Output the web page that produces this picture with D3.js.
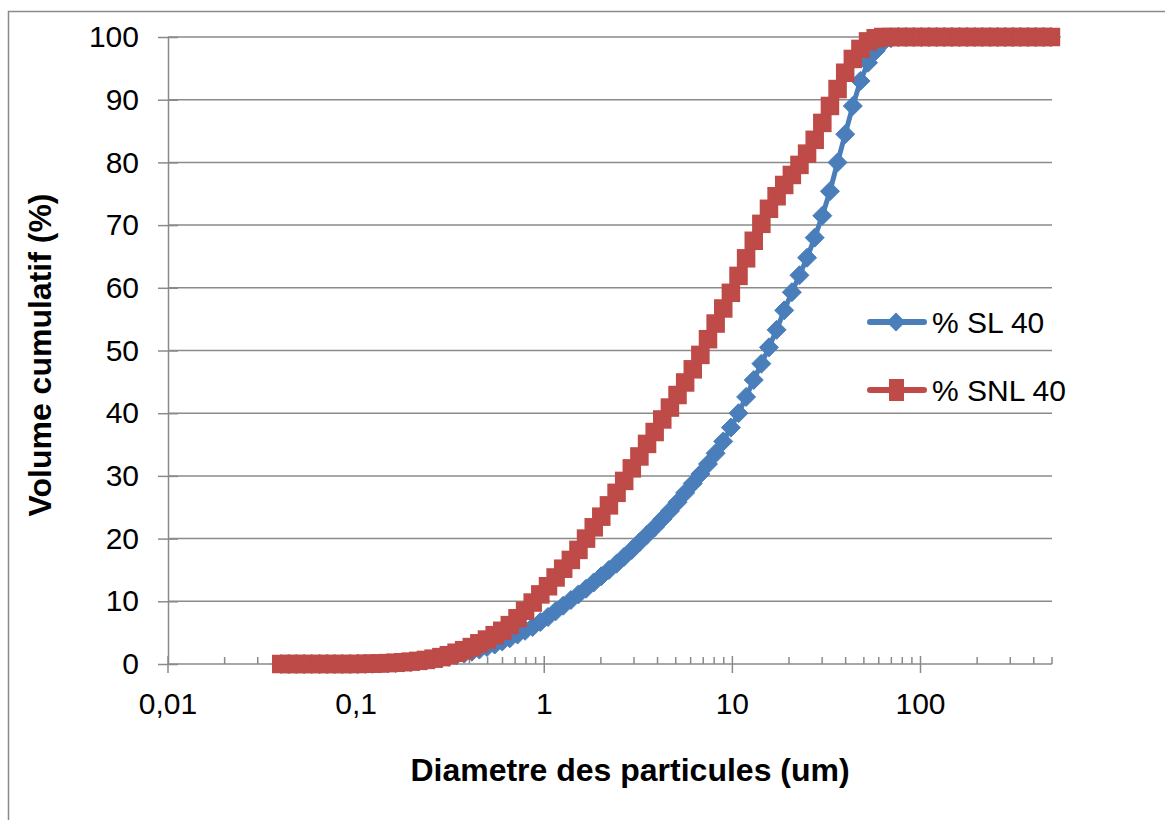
<!DOCTYPE html>
<html>
<head>
<meta charset="utf-8">
<script src="https://cdn.jsdelivr.net/npm/d3@7"></script>
<style>
  html, body { margin: 0; padding: 0; background: #ffffff; }
  svg { display: block; font-family: "Liberation Sans", Arial, sans-serif; }
</style>
</head>
<body>
<svg id="chart" width="1165" height="820"></svg>
<script>
// Particle size classes (um)
const sizeClasses = [
  0.040, 0.044, 0.048, 0.053, 0.058, 0.064, 0.070, 0.077, 0.084, 0.093,
  0.102, 0.112, 0.122, 0.134, 0.148, 0.162, 0.178, 0.195, 0.214, 0.235,
  0.258, 0.284, 0.311, 0.342,
  0.375, 0.412, 0.452, 0.496, 0.545, 0.598, 0.656, 0.721, 0.791, 0.868,
  0.953, 1.047, 1.149, 1.261, 1.385, 1.520, 1.668, 1.832, 2.010, 2.207,
  2.423, 2.660, 2.920, 3.205, 3.519, 3.863, 4.240, 4.655, 5.110, 5.610,
  6.158, 6.760, 7.421, 8.147, 8.943, 9.818, 10.78, 11.83, 12.99, 14.26,
  15.65, 17.18, 18.86, 20.71, 22.73, 24.95, 27.39, 30.07, 33.01, 36.24,
  39.78, 43.67, 47.94, 52.62, 57.77, 63.41, 69.61, 76.42, 83.89, 92.09,
  101.1, 111.0, 121.8, 133.7, 146.8, 161.2, 176.8, 194.2, 213.2, 234.1,
  256.9, 282.1, 309.6, 339.9, 373.1, 409.6, 449.7, 493.6
];

// Cumulative volume (%) - % SL 40
const sl40 = [
  0, 0, 0, 0, 0, 0, 0, 0, 0, 0,
  0, 0.02, 0.04, 0.07, 0.11, 0.16, 0.22, 0.3, 0.42, 0.55,
  0.72, 0.92, 1.15, 1.4,
  1.65, 1.95, 2.3, 2.7, 3.1, 3.6, 4.1, 4.7, 5.3, 5.9,
  6.7, 7.5, 8.4, 9.3, 10.2, 11.1, 12.0, 13.0, 14.0, 15.0,
  16.0, 17.1, 18.2, 19.4, 20.6, 21.8, 23.1, 24.4, 25.8, 27.3,
  28.8, 30.3, 31.9, 33.6, 35.5, 37.7, 40.0, 42.6, 45.3, 47.9,
  50.5, 53.3, 56.4, 59.3, 62.0, 64.8, 68.0, 71.5, 75.4, 80.0,
  84.5, 89.0, 93.0, 95.9, 97.8, 99.2, 99.8, 100, 100, 100,
  100, 100, 100, 100, 100, 100, 100, 100, 100, 100,
  100, 100, 100, 100, 100, 100, 100, 100
];

// Cumulative volume (%) - % SNL 40
const snl40 = [
  0, 0, 0, 0, 0, 0, 0, 0, 0, 0,
  0.01, 0.03, 0.05, 0.09, 0.14, 0.2, 0.28, 0.38, 0.5, 0.65,
  0.85, 1.1, 1.4, 1.8,
  2.2, 2.7, 3.3, 3.9, 4.6, 5.3, 6.2, 7.3, 8.5, 9.8,
  11.1, 12.4, 13.8, 15.2, 16.6, 18.2, 20.0, 21.8, 23.5, 25.3,
  27.3, 29.2, 31.2, 33.1, 35.1, 37.0, 39.0, 40.9, 42.9, 44.9,
  47.0, 49.3, 51.8, 54.3, 56.7, 59.2, 61.9, 64.7, 67.5, 70.2,
  72.6, 74.6, 76.4, 78.0, 79.6, 81.4, 83.6, 86.3, 89.0, 91.7,
  94.3, 96.5, 98.1, 99.3, 99.8, 100, 100, 100, 100, 100,
  100, 100, 100, 100, 100, 100, 100, 100, 100, 100,
  100, 100, 100, 100, 100, 100, 100, 100
];

const yTickValues = [0, 10, 20, 30, 40, 50, 60, 70, 80, 90, 100];
const xTickValues = [0.01, 0.1, 1, 10, 100];
const xTickLabels = ["0,01", "0,1", "1", "10", "100"];
const seriesNames = ["% SL 40", "% SNL 40"];

const BLUE = "#4a7ebb";
const RED = "#be4b48";
const GRID = "#8a8a8a";

const svg = d3.select("#chart");

// Chart area frame
svg.append("rect")
  .attr("x", 8.5).attr("y", 11.5)
  .attr("width", 1300).attr("height", 900)
  .attr("fill", "none").attr("stroke", "#8a8a8a").attr("stroke-width", 1.5);

const plot = { left: 168, right: 1052, top: 37, bottom: 664 };

const x = d3.scaleLog().domain([0.01, 500]).range([plot.left, plot.right]);
const y = d3.scaleLinear().domain([0, 100]).range([plot.bottom, plot.top]);

// Horizontal gridlines
svg.append("g")
  .selectAll("line")
  .data(yTickValues.filter(v => v > 0))
  .join("line")
  .attr("x1", plot.left).attr("x2", plot.right)
  .attr("y1", d => y(d)).attr("y2", d => y(d))
  .attr("stroke", GRID).attr("stroke-width", 1.5);

// Y axis
const yAxis = svg.append("g")
  .attr("transform", `translate(${plot.left},0)`)
  .call(d3.axisLeft(y).tickValues(yTickValues).tickSize(0).tickPadding(29));
yAxis.select(".domain").attr("stroke", GRID).attr("stroke-width", 1.5);
yAxis.selectAll(".tick text")
  .attr("font-size", 30).attr("fill", "#000")
  .attr("font-family", "Liberation Sans, Arial, sans-serif");
yAxis.selectAll(".tick")
  .append("line")
  .attr("x1", -10).attr("x2", 10)
  .attr("stroke", GRID).attr("stroke-width", 1.5);

// X axis: major ticks crossing, minor ticks inside
const minorTicks = [];
for (let e = -2; e <= 2; e++) {
  for (let m = 2; m <= 9; m++) {
    const v = m * Math.pow(10, e);
    if (v <= 500) minorTicks.push(v);
  }
}
const xAxisG = svg.append("g");
xAxisG.append("line")
  .attr("x1", plot.left).attr("x2", plot.right)
  .attr("y1", plot.bottom).attr("y2", plot.bottom)
  .attr("stroke", GRID).attr("stroke-width", 1.5);
xAxisG.selectAll("line.minor")
  .data(minorTicks)
  .join("line")
  .attr("class", "minor")
  .attr("x1", d => x(d)).attr("x2", d => x(d))
  .attr("y1", plot.bottom - 7).attr("y2", plot.bottom)
  .attr("stroke", GRID).attr("stroke-width", 1.5);
xAxisG.selectAll("line.major")
  .data(xTickValues)
  .join("line")
  .attr("class", "major")
  .attr("x1", d => x(d)).attr("x2", d => x(d))
  .attr("y1", plot.bottom - 8).attr("y2", plot.bottom + 9)
  .attr("stroke", GRID).attr("stroke-width", 1.5);
xAxisG.selectAll("text")
  .data(xTickValues)
  .join("text")
  .attr("x", d => x(d))
  .attr("y", 714)
  .attr("text-anchor", "middle")
  .attr("font-size", 30)
  .attr("fill", "#000")
  .text((d, i) => xTickLabels[i]);

// Axis titles
svg.append("text")
  .attr("x", 630).attr("y", 781)
  .attr("text-anchor", "middle")
  .attr("font-size", 32).attr("font-weight", "bold")
  .text("Diametre des particules (um)");
svg.append("text")
  .attr("transform", "translate(51,355) rotate(-90)")
  .attr("text-anchor", "middle")
  .attr("font-size", 32).attr("font-weight", "bold")
  .text("Volume cumulatif (%)");

// Series
const lineGen = d3.line()
  .x(d => x(d[0]))
  .y(d => y(d[1]));

const diamond = "M0,-9.5 L9.5,0 L0,9.5 L-9.5,0 Z";

function drawSeries(values, color, shape) {
  const pts = sizeClasses.map((s, i) => [s, values[i]]);
  svg.append("path")
    .datum(pts)
    .attr("d", lineGen)
    .attr("fill", "none")
    .attr("stroke", color)
    .attr("stroke-width", 5)
    .attr("stroke-linejoin", "round")
    .attr("stroke-linecap", "round");
  const g = svg.append("g");
  if (shape === "diamond") {
    g.selectAll("path")
      .data(pts)
      .join("path")
      .attr("d", diamond)
      .attr("transform", d => `translate(${x(d[0])},${y(d[1])})`)
      .attr("fill", color).attr("stroke", color).attr("stroke-width", 1);
  } else {
    g.selectAll("rect")
      .data(pts)
      .join("rect")
      .attr("x", d => x(d[0]) - 8.5)
      .attr("y", d => y(d[1]) - 8.5)
      .attr("width", 17).attr("height", 17)
      .attr("fill", color).attr("stroke", color).attr("stroke-width", 1.5);
  }
}

drawSeries(sl40, BLUE, "diamond");
drawSeries(snl40, RED, "square");

// Legend
const legendItems = [
  { name: seriesNames[0], color: BLUE, shape: "diamond", y: 322 },
  { name: seriesNames[1], color: RED, shape: "square", y: 390 }
];
const lg = svg.append("g");
legendItems.forEach(it => {
  lg.append("line")
    .attr("x1", 870).attr("x2", 924)
    .attr("y1", it.y).attr("y2", it.y)
    .attr("stroke", it.color).attr("stroke-width", 6)
    .attr("stroke-linecap", "round");
  if (it.shape === "diamond") {
    lg.append("path")
      .attr("d", diamond)
      .attr("transform", `translate(896,${it.y})`)
      .attr("fill", it.color);
  } else {
    lg.append("rect")
      .attr("x", 889).attr("y", it.y - 11)
      .attr("width", 15).attr("height", 22)
      .attr("fill", it.color);
  }
  lg.append("text")
    .attr("x", 932).attr("y", it.y + 11)
    .attr("font-size", 30)
    .attr("fill", "#000")
    .text(it.name);
});
</script>
</body>
</html>
